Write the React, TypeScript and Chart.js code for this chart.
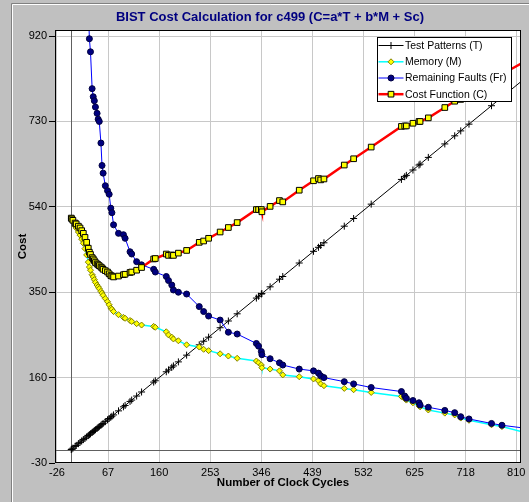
import React, { useEffect, useRef } from 'react';
import { Chart, registerables } from 'chart.js';

Chart.register(...registerables);

const chartTitle = 'BIST Cost Calculation for c499 (C=a*T + b*M + Sc)';
const xAxisTitle = 'Number of Clock Cycles';
const yAxisTitle = 'Cost';

const xTickValues = [-26, 67, 160, 253, 346, 439, 532, 625, 718, 810];
const yTickValues = [-30, 160, 350, 540, 730, 920];

const seriesLabels = ['Test Patterns (T)', 'Memory (M)', 'Remaining Faults (Fr)', 'Cost Function (C)'];

const clockCycles = [
  0, 1, 3, 7, 9, 13, 16, 19, 22, 25, 28, 31, 33, 35, 38, 40, 42, 44, 47, 49,
  51, 54, 56, 58, 62, 66, 69, 72, 74, 77, 86, 95, 98, 107, 110, 119, 128, 150, 153, 173,
  177, 183, 186, 195, 210, 233, 241, 250, 271, 286, 302, 337, 341, 346, 347, 362, 379, 385, 415, 441,
  450, 454, 460, 497, 514, 546, 601, 607, 610, 622, 633, 635, 650, 680, 698, 709, 724, 765, 784, 835,
];

const testPatterns = [
  0, 1, 3, 7, 9, 13, 16, 19, 22, 25, 28, 31, 33, 35, 38, 40, 42, 44, 47, 49,
  51, 54, 56, 58, 62, 66, 69, 72, 74, 77, 86, 95, 98, 107, 110, 119, 128, 150, 153, 173,
  177, 183, 186, 195, 210, 233, 241, 250, 271, 286, 302, 337, 341, 346, 347, 362, 379, 385, 415, 441,
  450, 454, 460, 497, 514, 546, 601, 607, 610, 622, 633, 635, 650, 680, 698, 709, 724, 765, 784, 835,
];

const memory = [
  515, 512, 507, 497, 493, 484, 477, 468, 459, 447, 433, 417, 406, 399, 389, 384, 378, 372, 366, 362,
  358, 352, 348, 343, 336, 329, 322, 315, 312, 307, 300, 294, 292, 287, 285, 280, 277, 274, 272, 262,
  255, 250, 246, 242, 233, 228, 223, 220, 213, 208, 203, 197, 193, 188, 182, 179, 175, 166, 162, 157,
  153, 146, 142, 136, 133, 127, 118, 113, 110, 104, 97, 95, 88, 81, 77, 70, 65, 55, 51, 35,
];

const remainingFaults = [
  1420, 1400, 1370, 1330, 1290, 1250, 1200, 1160, 1120, 1080, 1040, 990, 914, 885, 803, 785, 776, 762, 748, 735,
  730, 682, 632, 615, 587, 576, 568, 537, 527, 500, 481, 478, 470, 440, 435, 418, 411, 401, 395, 385,
  376, 366, 355, 350, 346, 318, 307, 297, 288, 261, 257, 236, 230, 218, 211, 202, 193, 188, 179, 175,
  170, 164, 160, 151, 146, 138, 129, 119, 114, 109, 104, 99, 94, 87, 82, 73, 68, 58, 54, 46,
];

const costFunction = [
  515, 513, 510, 504, 502, 497, 493, 487, 481, 472, 461, 448, 439, 434, 427, 424, 420, 416, 413, 411,
  409, 406, 404, 401, 398, 395, 391, 387, 386, 384, 386, 389, 390, 394, 395, 399, 405, 424, 425, 435,
  432, 433, 432, 437, 443, 461, 464, 470, 484, 494, 505, 534, 534, 534, 529, 541, 554, 551, 577, 598,
  603, 600, 602, 633, 647, 673, 719, 720, 720, 726, 730, 730, 738, 761, 775, 779, 789, 820, 835, 870,
];

const FONT = "'Liberation Sans', Arial, Helvetica, sans-serif";

type Marker = { style: string; fill: string; stroke: string; radius: number; line: string; lineWidth: number };
const markers: Marker[] = [
  { style: 'cross', fill: '#000000', stroke: '#000000', radius: 3.5, line: '#000000', lineWidth: 1 },
  { style: 'rectRot', fill: '#ffff00', stroke: '#808000', radius: 3, line: '#00ffff', lineWidth: 1.5 },
  { style: 'circle', fill: '#000080', stroke: '#000040', radius: 3, line: '#0000ff', lineWidth: 1 },
  { style: 'rect', fill: '#ffff00', stroke: '#000000', radius: 4, line: '#ff0000', lineWidth: 2.5 },
];

function drawMarker(ctx: CanvasRenderingContext2D, m: Marker, x: number, y: number) {
  ctx.save();
  ctx.fillStyle = m.fill;
  ctx.strokeStyle = m.stroke;
  ctx.lineWidth = 1;
  ctx.beginPath();
  const r = m.radius;
  if (m.style === 'cross') {
    ctx.moveTo(x - r, y);
    ctx.lineTo(x + r, y);
    ctx.moveTo(x, y - r);
    ctx.lineTo(x, y + r);
    ctx.stroke();
  } else if (m.style === 'rectRot') {
    ctx.moveTo(x - r, y);
    ctx.lineTo(x, y - r);
    ctx.lineTo(x + r, y);
    ctx.lineTo(x, y + r);
    ctx.closePath();
    ctx.fill();
    ctx.stroke();
  } else if (m.style === 'circle') {
    ctx.arc(x, y, r, 0, Math.PI * 2);
    ctx.fill();
    ctx.stroke();
  } else {
    const s = r * Math.SQRT1_2;
    ctx.rect(x - s, y - s, 2 * s, 2 * s);
    ctx.fill();
    ctx.stroke();
  }
  ctx.restore();
}

const decorPlugin = {
  id: 'decor',
  beforeDraw(chart: any) {
    const { ctx, width, height, chartArea: a } = chart;
    ctx.save();
    ctx.fillStyle = '#c0c0c0';
    ctx.fillRect(0, 0, width, height);
    ctx.strokeStyle = '#808080';
    ctx.lineWidth = 1;
    ctx.beginPath();
    ctx.moveTo(11.5, height);
    ctx.lineTo(11.5, 3.5);
    ctx.lineTo(width, 3.5);
    ctx.stroke();
    ctx.strokeStyle = '#ffffff';
    ctx.beginPath();
    ctx.moveTo(12.5, height);
    ctx.lineTo(12.5, 4.5);
    ctx.lineTo(width, 4.5);
    ctx.stroke();
    ctx.fillStyle = '#ffffff';
    ctx.fillRect(a.left, a.top, a.right - a.left, a.bottom - a.top);
    ctx.restore();
  },
  beforeDatasetsDraw(chart: any) {
    const { ctx, chartArea: a, scales } = chart;
    const x0 = Math.round(scales.x.getPixelForValue(0)) + 0.5;
    const y0 = Math.round(scales.y.getPixelForValue(0)) + 0.5;
    ctx.save();
    ctx.strokeStyle = '#606060';
    ctx.lineWidth = 1;
    ctx.beginPath();
    ctx.moveTo(x0, a.top);
    ctx.lineTo(x0, a.bottom);
    ctx.moveTo(a.left, y0);
    ctx.lineTo(a.right, y0);
    ctx.stroke();
    ctx.restore();
  },
  afterDraw(chart: any) {
    const { ctx, chartArea: a } = chart;
    ctx.save();
    // plot frame
    ctx.strokeStyle = '#000000';
    ctx.lineWidth = 1;
    ctx.strokeRect(a.left + 0.5, a.top + 0.5, a.right - a.left - 1, a.bottom - a.top - 1);

    // title
    ctx.fillStyle = '#000080';
    ctx.font = `bold 13px ${FONT}`;
    ctx.textAlign = 'center';
    ctx.textBaseline = 'middle';
    ctx.fillText(chartTitle, 270, 17);

    // axis titles
    ctx.fillStyle = '#000000';
    ctx.font = `bold 11.5px ${FONT}`;
    ctx.fillText(xAxisTitle, 283, 483);
    ctx.save();
    ctx.translate(22.5, (a.top + a.bottom) / 2);
    ctx.rotate(-Math.PI / 2);
    ctx.fillText(yAxisTitle, 0, 0);
    ctx.restore();

    // legend
    const lx = 377, ly = 37, lw = 135, lh = 65;
    ctx.fillStyle = '#ffffff';
    ctx.fillRect(lx, ly, lw, lh);
    ctx.strokeStyle = '#000000';
    ctx.strokeRect(lx + 0.5, ly + 0.5, lw - 1, lh - 1);
    const rows = [45.5, 61.8, 78, 94.2];
    ctx.font = `10.5px ${FONT}`;
    ctx.textAlign = 'left';
    ctx.textBaseline = 'middle';
    seriesLabels.forEach((label, i) => {
      const m = markers[i];
      const y = rows[i];
      ctx.strokeStyle = m.line;
      ctx.lineWidth = m.lineWidth;
      ctx.beginPath();
      ctx.moveTo(378.5, y);
      ctx.lineTo(403.5, y);
      ctx.stroke();
      drawMarker(ctx, m, 391, y);
      ctx.fillStyle = '#000000';
      ctx.fillText(label, 405, y + 0.5);
    });
    ctx.restore();
  },
};

const toPoints = (ys: number[]) => clockCycles.map((x, i) => ({ x, y: ys[i] }));

export default function App() {
  const ref = useRef<HTMLCanvasElement>(null);
  useEffect(() => {
    const seriesData = [testPatterns, memory, remainingFaults, costFunction];
    const orders = [3, 2, 1, 0];
    const chart = new Chart(ref.current as HTMLCanvasElement, {
      type: 'line',
      data: {
        datasets: seriesData.map((ys, i) => ({
          label: seriesLabels[i],
          data: toPoints(ys),
          borderColor: markers[i].line,
          borderWidth: markers[i].lineWidth,
          pointStyle: markers[i].style as any,
          pointRadius: markers[i].radius,
          pointBackgroundColor: markers[i].fill,
          pointBorderColor: markers[i].stroke,
          pointBorderWidth: 1,
          tension: 0,
          fill: false,
          clip: 0,
          order: orders[i],
        })),
      },
      options: {
        responsive: false,
        animation: false,
        events: [],
        layout: { padding: { top: 30, right: 8, bottom: 0, left: 0 } },
        plugins: {
          legend: { display: false },
          title: { display: false },
          tooltip: { enabled: false },
        },
        scales: {
          x: {
            type: 'linear',
            min: -29.6,
            max: 818.7,
            afterBuildTicks: (s: any) => {
              s.ticks = xTickValues.map((v) => ({ value: v }));
            },
            afterFit: (s: any) => {
              s.height = 39;
            },
            ticks: {
              autoSkip: false,
              maxRotation: 0,
              padding: 3,
              color: '#000000',
              font: { family: FONT, size: 11 },
              callback: (v: any) => String(v),
            },
            grid: { color: '#c8c8c8', drawTicks: false },
            border: { display: false },
          },
          y: {
            type: 'linear',
            min: -30,
            max: 933.5,
            afterBuildTicks: (s: any) => {
              s.ticks = yTickValues.map((v) => ({ value: v }));
            },
            afterFit: (s: any) => {
              s.width = 55;
            },
            ticks: {
              padding: 2,
              color: '#000000',
              font: { family: FONT, size: 11 },
              callback: (v: any) => String(v),
            },
            grid: { color: '#c8c8c8', tickColor: '#000000', tickLength: 6 },
            border: { display: false },
          },
        },
      },
      plugins: [decorPlugin],
    } as any);
    return () => chart.destroy();
  }, []);
  return (
    <div style={{ position: 'absolute', left: 0, top: 0, width: 529, height: 502 }}>
      <canvas ref={ref} width={529} height={502} style={{ display: 'block', width: 529, height: 502 }} />
    </div>
  );
}
